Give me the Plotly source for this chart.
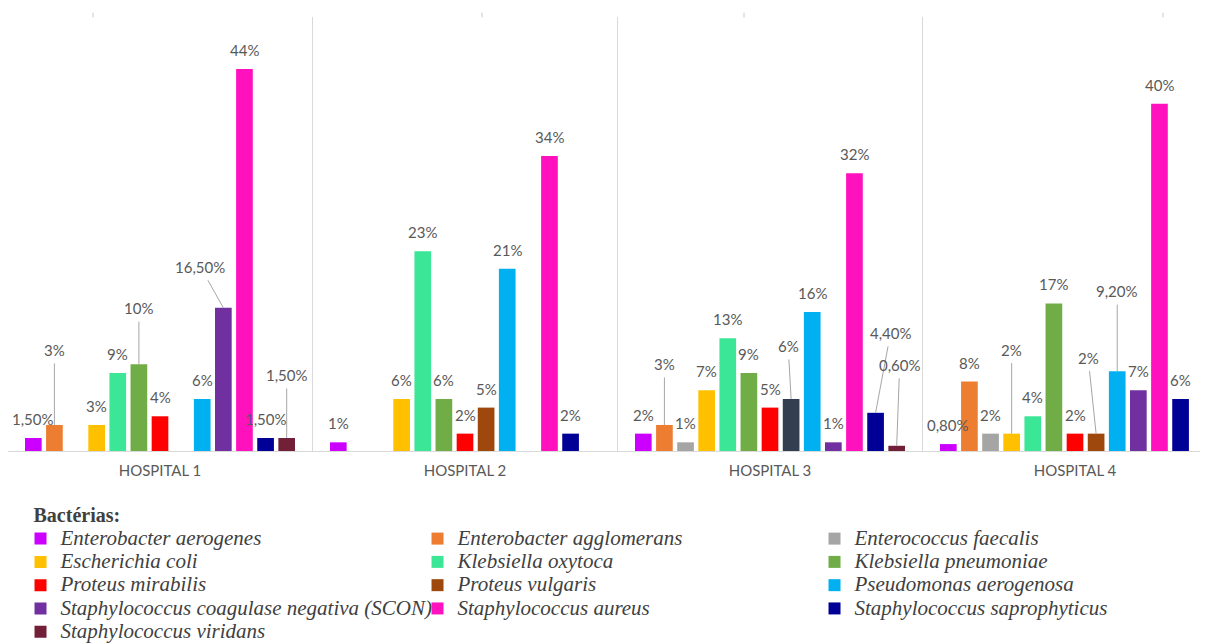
import plotly.graph_objects as go

# ---------------- data ----------------
HOSPITALS = ["HOSPITAL 1", "HOSPITAL 2", "HOSPITAL 3", "HOSPITAL 4"]
BACTERIA = [
    "Enterobacter aerogenes", "Enterobacter agglomerans", "Enterococcus faecalis",
    "Escherichia coli", "Klebsiella oxytoca", "Klebsiella pneumoniae",
    "Proteus mirabilis", "Proteus vulgaris", "Pseudomonas aerogenosa",
    "Staphylococcus coagulase negativa (SCON)", "Staphylococcus aureus",
    "Staphylococcus saprophyticus", "Staphylococcus viridans",
]
# percentage per hospital (H1..H4); None = not isolated
ENT_AEROGENES = [1.5, 1, 2, 0.8]
ENT_AGGLOMERANS = [3, None, 3, 8]
ENTEROCOCCUS_FAECALIS = [None, None, 1, 2]
E_COLI = [3, 6, 7, 2]
K_OXYTOCA = [9, 23, 13, 4]
K_PNEUMONIAE = [10, 6, 9, 17]
P_MIRABILIS = [4, 2, 5, 2]
P_VULGARIS = [None, 5, 6, 2]
P_AEROGENOSA = [6, 21, 16, 9.2]
SCON = [16.5, None, 1, 7]
S_AUREUS = [44, 34, 32, 40]
S_SAPROPHYTICUS = [1.5, 2, 4.4, 6]
S_VIRIDANS = [1.5, None, 0.6, None]

SERIES = [ENT_AEROGENES, ENT_AGGLOMERANS, ENTEROCOCCUS_FAECALIS, E_COLI,
          K_OXYTOCA, K_PNEUMONIAE, P_MIRABILIS, P_VULGARIS, P_AEROGENOSA,
          SCON, S_AUREUS, S_SAPROPHYTICUS, S_VIRIDANS]

# ---------------- styles ----------------
COLORS = ["#CC00FF", "#ED7D31", "#A5A5A5", "#FFC000", "#3BE696", "#70AD47",
          "#FF0000", "#9E480E", "#00B0F0", "#7030A0", "#FF12BE", "#000096",
          "#722038"]
COLOR_OVERRIDES = {(7, 2): "#333F50"}  # (series, hospital) -> colour

# data labels moved away from their bar (pixel offsets), drawn with a leader line
LEADERS = {
    (1, 0): (0, -75), (5, 0): (0, -56), (9, 0): (-23, -41), (12, 0): (0, -63),
    (1, 2): (0, -61), (7, 2): (-3, -53), (11, 2): (15, -80), (12, 2): (3, -81),
    (3, 3): (0, -84), (7, 3): (-8, -76), (8, 3): (0, -80),
}

W, H = 1200, 636          # page body keeps an 8 px margin
BARGAP = 0.1
BARGROUPGAP = 0.21
LABEL_FONT = dict(family="Lato", size=15, color="#595959")
GRID = "#D9D9D9"


def fmt(v):
    if float(v).is_integer():
        return f"{int(v)}%"
    return f"{v:.2f}".replace(".", ",") + "%"


fig = go.Figure()
n = len(SERIES)
for k, (name, vals, col) in enumerate(zip(BACTERIA, SERIES, COLORS)):
    cols = [COLOR_OVERRIDES.get((k, h), col) for h in range(len(HOSPITALS))]
    fig.add_trace(go.Bar(
        x=HOSPITALS, y=vals,
        name=f'<span style="font-size:21px">{name}</span>',
        marker=dict(color=cols, line=dict(width=0)),
        hovertemplate=f"{name}<br>%{{x}}: %{{y}}%<extra></extra>",
    ))

# data labels
slot = (1 - BARGAP) / n
annotations = []
for k, vals in enumerate(SERIES):
    for h, v in enumerate(vals):
        if v is None:
            continue
        xc = h - (1 - BARGAP) / 2 + (k + 0.5) * slot
        if (k, h) in LEADERS:
            dx, dy = LEADERS[(k, h)]
            annotations.append(dict(
                x=xc, y=v, xref="x", yref="y", text=fmt(v), font=LABEL_FONT,
                showarrow=True, arrowhead=0, arrowwidth=1, arrowcolor="#A6A6A6",
                ax=dx, ay=dy, standoff=0, borderpad=4,
            ))
        else:
            annotations.append(dict(
                x=xc, y=v, xref="x", yref="y", text=fmt(v), font=LABEL_FONT,
                showarrow=False, yanchor="middle", yshift=19,
            ))

shapes = []
# separators between hospitals
for i in range(len(HOSPITALS) - 1):
    shapes.append(dict(type="line", xref="x", yref="paper", x0=i + 0.5, x1=i + 0.5,
                       y0=0, y1=1, line=dict(color=GRID, width=1)))
# small stray tick marks at the top edge
for px in [93, 482, 744, 1163]:
    shapes.append(dict(type="line", xref="paper", yref="paper",
                       x0=(px - 8) / W, x1=(px - 8) / W,
                       y0=1.01, y1=0.999, line=dict(color="#C8C8C8", width=1)))

fig.update_layout(
    width=W, height=H,
    margin=dict(l=0, r=0, t=9, b=193, autoexpand=False),
    paper_bgcolor="white", plot_bgcolor="white",
    barmode="group", bargap=BARGAP, bargroupgap=BARGROUPGAP,
    xaxis=dict(type="category", range=[(8 - 160) / 305, (1208 - 160) / 305],
               showline=True, linecolor=GRID, linewidth=1, showgrid=False,
               ticks="", tickfont=dict(family="Lato", size=15, color="#595959"),
               ticklabelstandoff=6, zeroline=False),
    yaxis=dict(range=[0, 50], visible=False),
    showlegend=True,
    legend=dict(
        orientation="h", x=0.0196, xanchor="left", y=-0.1036, yanchor="top",
        entrywidthmode="fraction", entrywidth=397 / W, indentation=-11,
        traceorder="normal",
        font=dict(family="Liberation Serif", size=15.6, color="#404040", style="italic"),
        title=dict(text="<b>Bactérias:</b>", side="top",
                   font=dict(family="Liberation Serif", size=20, color="#404040",
                             style="normal")),
        bgcolor="rgba(0,0,0,0)",
    ),
    annotations=annotations,
    shapes=shapes,
)

fig.write_html("out.html")
